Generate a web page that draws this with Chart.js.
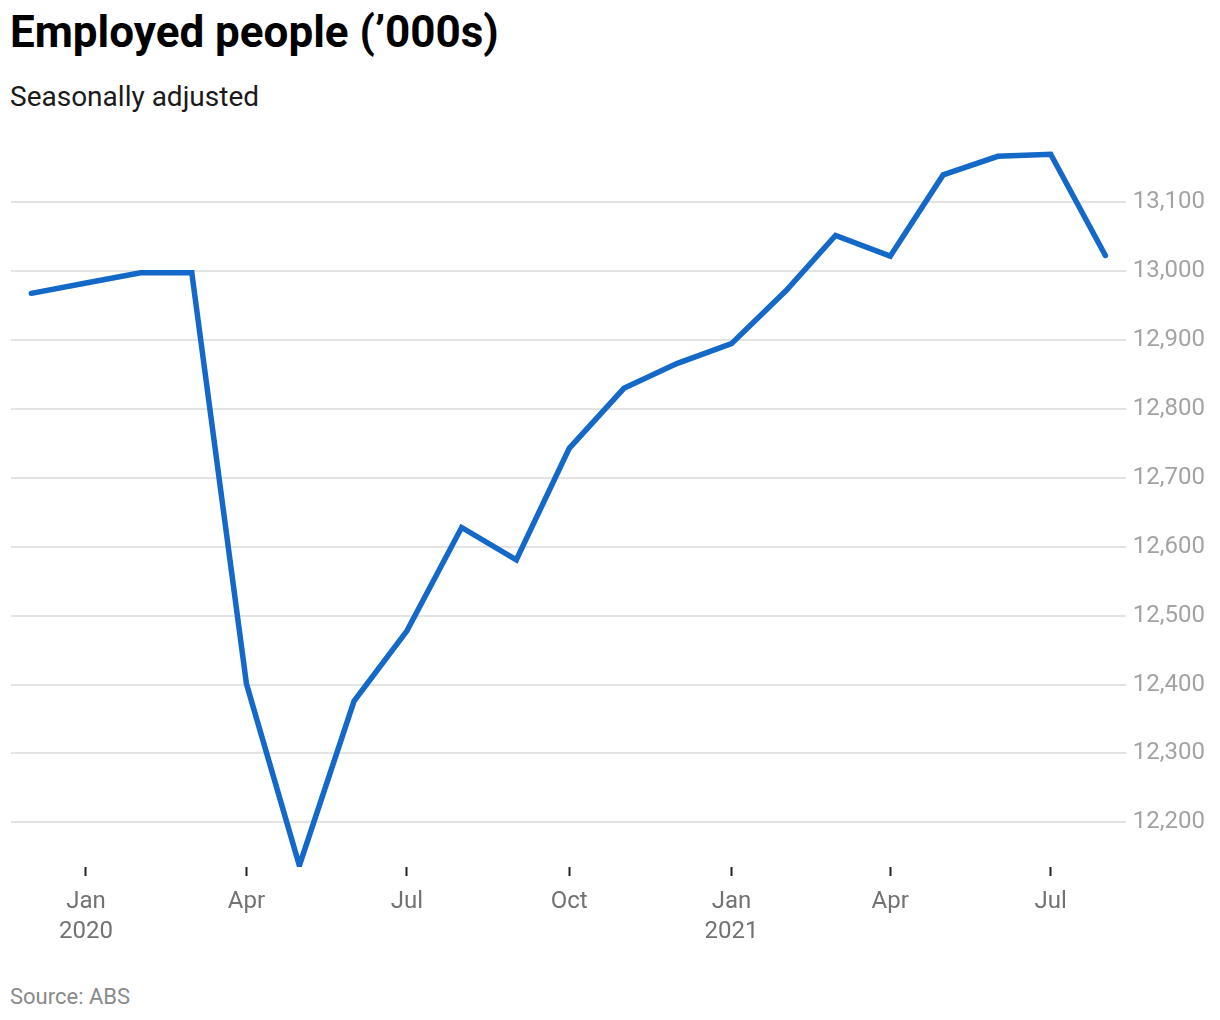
<!DOCTYPE html>
<html>
<head>
<meta charset="utf-8">
<script src="https://cdn.jsdelivr.net/npm/chart.js@4.4.1/dist/chart.umd.min.js"></script>
<style>
  body { margin: 0; width: 1220px; height: 1020px; background: #fff; font-family: Roboto, "Noto Sans", sans-serif; position: relative; overflow: hidden; }
  .title { position: absolute; left: 10px; top: 6px; font-size: 44px; line-height: 52px; font-weight: 700; color: #000; white-space: nowrap; }
  .subtitle { position: absolute; left: 10px; top: 80px; font-size: 28px; line-height: 34px; color: #1a1a1a; white-space: nowrap; }
  .source { position: absolute; left: 10px; top: 984px; font-size: 22px; line-height: 26px; color: #8a8a8a; white-space: nowrap; }
  .chart-box { position: absolute; left: 0; top: 128px; width: 1220px; height: 830px; }
</style>
</head>
<body>
<div class="title">Employed people (’000s)</div>
<div class="subtitle">Seasonally adjusted</div>
<div class="chart-box"><canvas id="employedChart"></canvas></div>
<div class="source">Source: ABS</div>

<script>
// Monthly data, Dec 2019 - Aug 2021
const months = ['2019-12', '2020-01', '2020-02', '2020-03', '2020-04', '2020-05', '2020-06',
  '2020-07', '2020-08', '2020-09', '2020-10', '2020-11', '2020-12', '2021-01', '2021-02',
  '2021-03', '2021-04', '2021-05', '2021-06', '2021-07', '2021-08'];
const employed = [12968, 12983, 12998, 12998, 12401, 12137, 12376, 12478, 12628, 12581,
  12743, 12830, 12866, 12895, 12972, 13052, 13022, 13140, 13167, 13170, 13023];

// x tick positions and labels (quarter starts)
const tickMonths = ['2020-01', '2020-04', '2020-07', '2020-10', '2021-01', '2021-04', '2021-07'];
const tickLabels = [['Jan', '2020'], 'Apr', 'Jul', 'Oct', ['Jan', '2021'], 'Apr', 'Jul'];
const yTicks = [12200, 12300, 12400, 12500, 12600, 12700, 12800, 12900, 13000, 13100];

// days since 1 Jan 2020, so months sit on a time-like axis
function dayOf(ym) {
  const [y, m] = ym.split('-').map(Number);
  return (Date.UTC(y, m - 1, 1) - Date.UTC(2020, 0, 1)) / 86400000;
}

const points = months.map((m, i) => ({ x: dayOf(m), y: employed[i] }));
const tickDays = tickMonths.map(dayOf);

const ctx = document.getElementById('employedChart').getContext('2d');
const employedChart = new Chart(ctx, {
  type: 'line',
  data: {
    datasets: [{
      label: 'Employed people',
      data: points,
      borderColor: '#1368c8',
      borderWidth: 5.5,
      borderCapStyle: 'round',
      borderJoinStyle: 'miter',
      pointRadius: 0,
      tension: 0,
      fill: false
    }]
  },
  options: {
    responsive: true,
    maintainAspectRatio: false,
    animation: false,
    layout: { padding: { left: 11, right: 8, top: 0, bottom: 0 } },
    scales: {
      x: {
        type: 'linear',
        min: -42.5,
        max: 589.6,
        afterBuildTicks: axis => { axis.ticks = tickDays.map(v => ({ value: v })); },
        grid: {
          drawOnChartArea: false,
          drawTicks: true,
          tickLength: 9,
          tickWidth: 2,
          tickColor: '#222'
        },
        border: { display: false },
        ticks: {
          autoSkip: false,
          maxRotation: 0,
          padding: 11,
          color: '#727272',
          font: { family: 'Roboto', size: 24, lineHeight: 1.25 },
          callback: value => {
            const i = tickDays.indexOf(value);
            return i >= 0 ? tickLabels[i] : '';
          }
        }
      },
      y: {
        position: 'right',
        min: 12135,
        max: 13177,
        afterBuildTicks: axis => { axis.ticks = yTicks.map(v => ({ value: v })); },
        grid: {
          color: '#e3e3e3',
          lineWidth: 2,
          drawTicks: false
        },
        border: { display: false },
        ticks: {
          padding: 7,
          color: '#a3a3a3',
          font: { family: 'Roboto', size: 24 },
          callback: value => value.toLocaleString('en-US')
        }
      }
    },
    plugins: {
      legend: { display: false },
      tooltip: { enabled: false }
    }
  }
});
</script>
</body>
</html>
